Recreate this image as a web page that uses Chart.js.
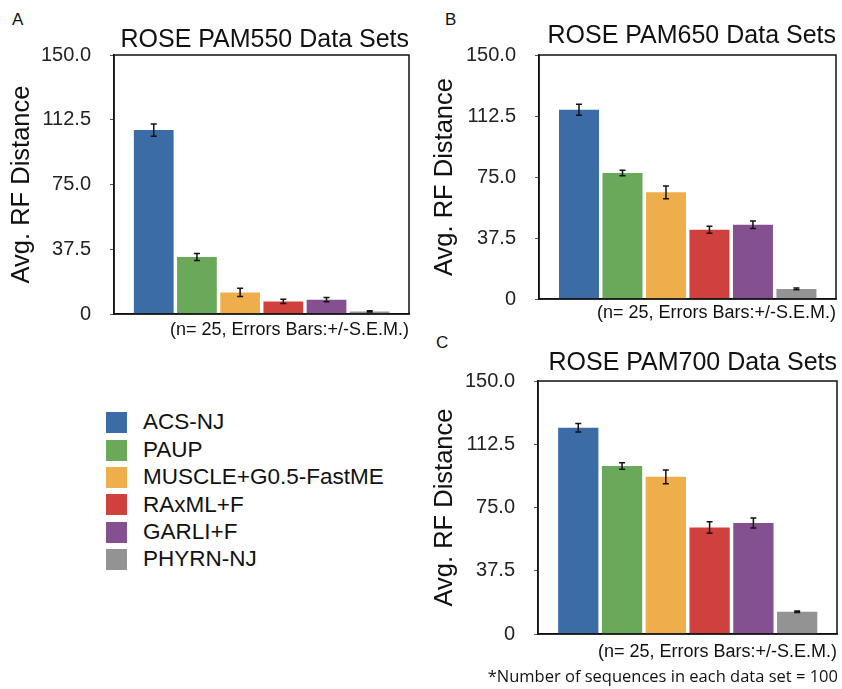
<!DOCTYPE html>
<html>
<head>
<meta charset="utf-8">
<title>ROSE PAM Data Sets</title>
<script src="https://cdn.jsdelivr.net/npm/chart.js@4.4.0/dist/chart.umd.min.js"></script>
<style>
    body { margin: 0; background: #fff; font-family: "Liberation Sans", Arial, sans-serif; color: #111; }
    #page { position: relative; width: 842px; height: 689px; overflow: hidden; }
    .panel { position: absolute; }
    .letter { position: absolute; font-size: 17px; line-height: 1; color: #111; }
    #legend { position: absolute; left: 106px; top: 409px; }
    .legend-row { display: flex; align-items: center; height: 27.4px; }
    .swatch { width: 21px; height: 21px; margin-right: 16px; }
    .legend-label { font-size: 22.5px; line-height: 1; color: #111; }
    #footnote { position: absolute; right: 4px; top: 668px; font-family: "Open Sans", sans-serif; font-size: 16.5px; line-height: 1; color: #111; }
</style>
</head>
<body>
<div id="page">
    <div class="letter" style="left:12px; top:11px;">A</div>
    <div class="letter" style="left:445px; top:11px;">B</div>
    <div class="letter" style="left:436px; top:334px;">C</div>

    <div class="panel" style="left:0; top:0; width:420px; height:345px;"><canvas id="chartA"></canvas></div>
    <div class="panel" style="left:425px; top:0; width:417px; height:330px;"><canvas id="chartB"></canvas></div>
    <div class="panel" style="left:425px; top:330px; width:417px; height:335px;"><canvas id="chartC"></canvas></div>

    <div id="legend"></div>
    <div id="footnote">*Number of sequences in each data set = 100</div>
</div>

<script>
// Methods (legend order = bar order)
const categories = ['ACS-NJ', 'PAUP', 'MUSCLE+G0.5-FastME', 'RAxML+F', 'GARLI+F', 'PHYRN-NJ'];
const barColors = ['#3b6ca5', '#6aa85a', '#efae4c', '#d0403d', '#85508f', '#939393'];

// Avg. RF distance and S.E.M. per data set
const pam550Values = [106.5, 33.0, 12.5, 7.3, 8.3, 1.5];
const pam550Errors = [3.5, 2.0, 2.4, 1.2, 1.2, 0.4];
const pam650Values = [116.4, 77.4, 65.6, 42.6, 45.6, 6.2];
const pam650Errors = [3.4, 1.7, 3.9, 2.2, 2.3, 0.5];
const pam700Values = [122.3, 99.6, 93.2, 63.2, 65.8, 13.2];
const pam700Errors = [2.5, 1.9, 4.1, 3.4, 3.0, 0.4];

// Y axis ticks
const yTickValues = [0, 37.5, 75, 112.5, 150];
const yTickLabels = ['0', '37.5', '75.0', '112.5', '150.0'];

const noteText = '(n= 25, Errors Bars:+/-S.E.M.)';

// Draws the +/- S.E.M. whiskers on top of the bars
const errorBarPlugin = {
    id: 'errorBars',
    afterDatasetsDraw: function(chart) {
        const ctx = chart.ctx;
        const yScale = chart.scales.y;
        const ds = chart.data.datasets[0];
        const meta = chart.getDatasetMeta(0);
        ctx.save();
        ctx.strokeStyle = '#111';
        ctx.lineWidth = 1.5;
        meta.data.forEach((bar, i) => {
            const v = ds.data[i].y;
            const top = yScale.getPixelForValue(v + ds.errors[i]);
            const bottom = yScale.getPixelForValue(v - ds.errors[i]);
            const cap = 3;
            ctx.beginPath();
            ctx.moveTo(bar.x, top);
            ctx.lineTo(bar.x, bottom);
            ctx.moveTo(bar.x - cap, top);
            ctx.lineTo(bar.x + cap, top);
            ctx.moveTo(bar.x - cap, bottom);
            ctx.lineTo(bar.x + cap, bottom);
            ctx.stroke();
        });
        ctx.restore();
    }
};

// Box around the plot area
const framePlugin = {
    id: 'frame',
    afterDraw: function(chart) {
        const a = chart.chartArea;
        const ctx = chart.ctx;
        ctx.save();
        ctx.strokeStyle = '#111';
        ctx.lineWidth = 1.5;
        ctx.strokeRect(a.left, a.top, a.right - a.left, a.bottom - a.top);
        ctx.restore();
    }
};

function makePanel(canvasId, title, values, errors, box) {
    const ctx = document.getElementById(canvasId).getContext('2d');
    return new Chart(ctx, {
        type: 'bar',
        data: {
            datasets: [{
                label: title,
                data: values.map((v, i) => ({ x: i, y: v })),
                errors: errors,
                backgroundColor: barColors,
                borderWidth: 0,
                barPercentage: 0.92,
                categoryPercentage: 1.0
            }]
        },
        options: {
            responsive: true,
            maintainAspectRatio: false,
            animation: false,
            layout: {
                padding: { left: 0, right: box.padRight, top: 0, bottom: box.padBottom }
            },
            scales: {
                x: {
                    type: 'linear',
                    offset: false,
                    min: -0.92,
                    max: 5.91,
                    ticks: { display: false },
                    grid: { display: false },
                    border: { display: true, color: '#111', width: 1.5 },
                    title: {
                        display: true,
                        text: noteText,
                        align: 'end',
                        color: '#111',
                        padding: 0,
                        font: { family: 'Liberation Sans', size: 18 }
                    },
                    afterFit: function(scale) { scale.height = box.xHeight; }
                },
                y: {
                    min: 0,
                    max: 150,
                    afterBuildTicks: function(scale) {
                        scale.ticks = yTickValues.map(v => ({ value: v }));
                    },
                    ticks: {
                        padding: 19,
                        color: '#222',
                        font: { family: 'Liberation Sans', size: 20 },
                        callback: function(value, index) { return yTickLabels[index]; }
                    },
                    grid: { drawOnChartArea: false, tickLength: 4, color: '#555' },
                    border: { display: true, color: '#111', width: 1.5 },
                    title: {
                        display: true,
                        text: 'Avg. RF Distance',
                        color: '#111',
                        padding: { top: box.yTitlePad, bottom: 0 },
                        font: { family: 'Liberation Sans', size: 25.5 }
                    },
                    afterFit: function(scale) { scale.width = box.yWidth; }
                }
            },
            plugins: {
                legend: { display: false },
                tooltip: { enabled: false },
                title: {
                    display: true,
                    text: title,
                    align: 'end',
                    color: '#111',
                    font: { family: 'Liberation Sans', size: 25, weight: 'normal' },
                    padding: { top: box.titleTop, bottom: box.titleBottom }
                }
            }
        },
        plugins: [errorBarPlugin, framePlugin]
    });
}

// Legend built from the same categories and colours
function buildLegend() {
    const legend = document.getElementById('legend');
    categories.forEach((name, i) => {
        const row = document.createElement('div');
        row.className = 'legend-row';
        const sw = document.createElement('div');
        sw.className = 'swatch';
        sw.style.background = barColors[i];
        const label = document.createElement('div');
        label.className = 'legend-label';
        label.textContent = name;
        row.appendChild(sw);
        row.appendChild(label);
        legend.appendChild(row);
    });
}

document.addEventListener('DOMContentLoaded', () => {
    buildLegend();
    // title block height = 25 * 1.2 = 30
    makePanel('chartA', 'ROSE PAM550 Data Sets', pam550Values, pam550Errors,
        { padRight: 11, padBottom: 4, xHeight: 26.8, yWidth: 114, yTitlePad: 6.7, titleTop: 25, titleBottom: 0 });
    makePanel('chartB', 'ROSE PAM650 Data Sets', pam650Values, pam650Errors,
        { padRight: 6, padBottom: 0.2, xHeight: 24.8, yWidth: 114, yTitlePad: 5, titleTop: 21, titleBottom: 4 });
    makePanel('chartC', 'ROSE PAM700 Data Sets', pam700Values, pam700Errors,
        { padRight: 5, padBottom: 2.2, xHeight: 28.8, yWidth: 113, yTitlePad: 4.6, titleTop: 18.5, titleBottom: 2.5 });
});
</script>
</body>
</html>
